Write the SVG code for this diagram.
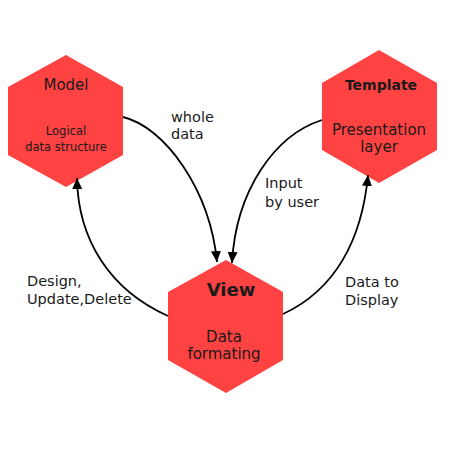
<svg xmlns="http://www.w3.org/2000/svg" width="450" height="450" viewBox="0 0 450 450">
<style>
.hex{fill:#FF4242;}
text{font-family:"DejaVu Sans","Liberation Sans",sans-serif;fill:#1a1a1a;}
.t{font-size:15px;text-anchor:middle;}
.s{font-size:11.5px;text-anchor:middle;}
.b{font-weight:bold;}
.lbl{font-size:14.5px;}
.c{fill:none;stroke:#000;stroke-width:1.8;}
</style>
<defs>
<marker id="ah" markerUnits="userSpaceOnUse" markerWidth="12" markerHeight="12" viewBox="0 0 12 12" refX="11" refY="6" orient="auto">
<path d="M0,1 L11,6 L0,11 Z" fill="#000"/>
</marker>
</defs>
<rect width="450" height="450" fill="#fff"/>
<g id="model">
<polygon class="hex" points="66,55 123,87 123,155 66,187 8,155 8,87"/>
<text class="t" x="66" y="90">Model</text>
<text class="s" x="66" y="135">Logical</text>
<text class="s" x="66" y="151">data structure</text>
</g>
<g id="template">
<polygon class="hex" points="379,50 437,83 437,150 379,183 322,150 322,83"/>
<text class="t b" x="381" y="90" style="font-size:14px">Template</text>
<text class="t" x="379" y="135">Presentation</text>
<text class="t" x="379" y="152">layer</text>
</g>
<g id="view">
<polygon class="hex" points="226,260 283,292 283,360 226,393 168,360 168,292"/>
<text class="t b" x="231" y="296" style="font-size:18px">View</text>
<text class="t" x="224" y="342">Data</text>
<text class="t" x="224" y="359">formating</text>
</g>
<g id="connectors">
<path class="c" d="M123,117 C165,127 210,190 217,262" marker-end="url(#ah)"/>
<path class="c" d="M322,120 C275,135 236,190 232,263" marker-end="url(#ah)"/>
<path class="c" d="M168,316 C110,290 78,240 77,178" marker-end="url(#ah)"/>
<path class="c" d="M283,314 C335,290 362,240 368,175" marker-end="url(#ah)"/>
</g>
<g id="labels">
<text class="lbl" x="171" y="122">whole</text>
<text class="lbl" x="171" y="139">data</text>
<text class="lbl" x="265" y="188">Input</text>
<text class="lbl" x="265" y="207">by user</text>
<text class="lbl" x="27" y="286">Design,</text>
<text class="lbl" x="27" y="304">Update,Delete</text>
<text class="lbl" x="345" y="287">Data to</text>
<text class="lbl" x="345" y="305">Display</text>
</g>
</svg>
